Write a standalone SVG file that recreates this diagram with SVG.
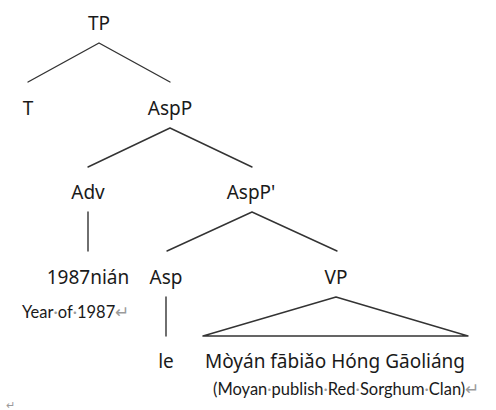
<svg xmlns="http://www.w3.org/2000/svg" width="496" height="410" viewBox="0 0 496 410">
<style>
.lbl{font-family:"Noto Sans","Open Sans",sans-serif;font-size:19px;fill:#1a1a1a;text-anchor:middle}
.gl{font-family:Lato,"Noto Sans",sans-serif;font-size:16.5px;fill:#1a1a1a}
.mk{fill:#9a9a9a}
.edge{stroke:#333;stroke-width:1.4;fill:none;stroke-linecap:round;stroke-linejoin:round}
</style>
<rect width="496" height="410" fill="#fff"/>
<g id="connectors">
<polyline class="edge" points="28,82 99,43 170,82"/>
<polyline class="edge" points="88,167 170,128 252,167"/>
<line class="edge" x1="88" y1="212" x2="88" y2="251"/>
<polyline class="edge" points="167,251 252,212 337,251"/>
<line class="edge" x1="166" y1="297" x2="166" y2="336"/>
<polygon class="edge" points="336,297 203,336 468,336"/>
</g>
<g id="TP"><text class="lbl" x="99" y="30">TP</text></g>
<g id="T"><text class="lbl" x="28" y="115">T</text></g>
<g id="AspP"><text class="lbl" x="170" y="115">AspP</text></g>
<g id="Adv"><text class="lbl" x="88" y="199">Adv</text></g>
<g id="AspP1"><text class="lbl" x="251" y="199">AspP'</text></g>
<g id="year"><text class="lbl" x="88" y="284">1987nián</text></g>
<g id="Asp"><text class="lbl" x="166" y="284">Asp</text></g>
<g id="VP"><text class="lbl" x="336" y="284">VP</text></g>
<g id="gloss1"><text class="gl" x="22" y="318">Year<tspan class="mk">·</tspan>of<tspan class="mk">·</tspan>1987<tspan class="mk">↵</tspan></text></g>
<g id="le"><text class="lbl" x="166" y="368">le</text></g>
<g id="VPtext"><text class="lbl" x="335" y="368">Mòyán fābiǎo Hóng Gāoliáng</text></g>
<g id="gloss2"><text class="gl" x="213" y="395">(Moyan<tspan class="mk">·</tspan>publish<tspan class="mk">·</tspan>Red<tspan class="mk">·</tspan>Sorghum<tspan class="mk">·</tspan>Clan)<tspan class="mk">↵</tspan></text></g>
<g id="mark"><text class="mk" style="font-family:Lato,sans-serif;font-size:11px" x="6" y="409">↵</text></g>
</svg>
